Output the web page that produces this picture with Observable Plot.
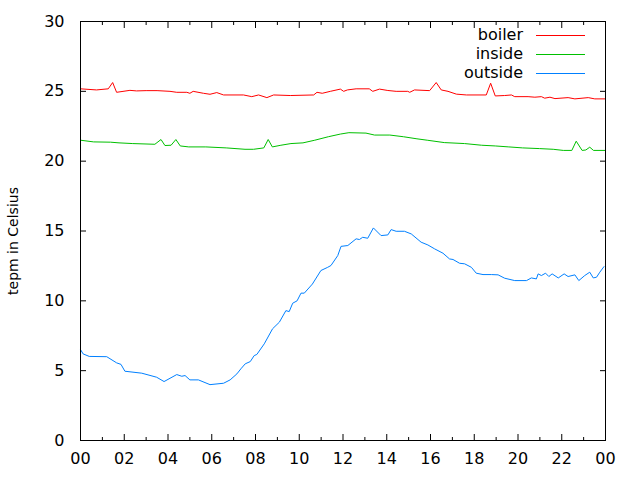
<!DOCTYPE html>
<html>
<head>
<meta charset="utf-8">
<script src="https://cdn.jsdelivr.net/npm/d3@7"></script>
<script src="https://cdn.jsdelivr.net/npm/@observablehq/plot@0.6"></script>
<style>
  html, body { margin: 0; padding: 0; background: #fff; }
  #wrap { position: relative; width: 640px; height: 480px; font-family: "DejaVu Sans", sans-serif; }
  #wrap svg { position: absolute; left: 0; top: 0; }
  .leg { position: absolute; left: 0; width: 640px; height: 20px; }
  .leg span.t { position: absolute; right: 117px; top: 0; font-size: 16px; line-height: 20px; color: #000; }
  .leg span.l { position: absolute; left: 536px; width: 49px; top: 10px; height: 1px; }
</style>
</head>
<body>
<div id="wrap"></div>
<script>
// ---- data (hour of day, temperature °C) ----
const boilerHours = [0, 0.73, 1.27, 1.47, 1.65, 2.26, 2.56, 3.0, 3.5, 4.09, 4.4, 4.86, 5.0, 5.15, 5.62, 5.92, 6.23, 6.54, 7.45, 7.83, 8.14, 8.52, 8.83, 9.59, 10.66, 10.81, 11.05, 11.42, 11.88, 12.03, 12.2, 12.6, 13.2, 13.36, 13.67, 14.05, 14.43, 14.96, 15.05, 15.27, 15.96, 16.26, 16.49, 16.8, 17.18, 17.64, 18.55, 18.75, 18.96, 19.39, 19.7, 19.85, 20.46, 20.77, 21.07, 21.22, 21.46, 21.69, 22.29, 22.6, 23.21, 23.51, 23.97];
const boilerTemp  = [25.18, 25.1, 25.18, 25.63, 24.93, 25.07, 25.03, 25.05, 25.05, 25.0, 24.93, 24.93, 24.86, 25.0, 24.86, 24.79, 24.91, 24.74, 24.74, 24.62, 24.74, 24.55, 24.74, 24.7, 24.74, 24.93, 24.86, 25.0, 25.16, 25.0, 25.1, 25.18, 25.18, 25.0, 25.16, 25.06, 25.0, 25.0, 24.93, 25.1, 25.05, 25.63, 25.1, 25.0, 24.8, 24.74, 24.74, 25.58, 24.67, 24.7, 24.74, 24.62, 24.62, 24.58, 24.62, 24.51, 24.58, 24.48, 24.55, 24.46, 24.55, 24.46, 24.46];

const insideHours = [0, 0.6, 1.37, 1.76, 2.39, 3.40, 3.68, 3.86, 4.14, 4.36, 4.56, 4.95, 5.73, 6.66, 7.52, 7.91, 8.38, 8.58, 8.77, 9.16, 9.62, 10.17, 10.71, 11.33, 11.88, 12.27, 13.05, 13.44, 14.14, 14.76, 15.38, 15.85, 16.63, 17.56, 18.34, 18.96, 19.58, 20.21, 20.99, 21.61, 22.07, 22.46, 22.66, 22.93, 23.1, 23.28, 23.45, 24.0];
const insideTemp  = [21.5, 21.38, 21.36, 21.31, 21.26, 21.21, 21.55, 21.12, 21.14, 21.55, 21.09, 21.02, 21.02, 20.95, 20.85, 20.85, 20.95, 21.55, 21.02, 21.14, 21.26, 21.31, 21.5, 21.75, 21.94, 22.04, 22.01, 21.87, 21.87, 21.75, 21.6, 21.5, 21.33, 21.26, 21.14, 21.09, 21.02, 20.95, 20.9, 20.85, 20.77, 20.77, 21.43, 20.77, 20.8, 21.0, 20.77, 20.77];

const outsideHours = [0, 0.12, 0.4, 1.2, 1.65, 1.85, 2.03, 2.8, 3.48, 3.82, 4.4, 4.63, 4.78, 5.0, 5.39, 5.92, 6.54, 6.84, 7.15, 7.33, 7.53, 7.76, 7.94, 8.06, 8.4, 8.78, 9.09, 9.39, 9.54, 9.7, 9.9, 10.08, 10.23, 10.6, 10.99, 11.3, 11.45, 11.76, 11.91, 12.22, 12.6, 12.75, 12.9, 13.13, 13.39, 13.74, 14.05, 14.2, 14.43, 14.81, 15.12, 15.57, 15.88, 16.19, 16.57, 16.87, 17.03, 17.33, 17.56, 17.87, 18.09, 18.4, 18.78, 19.09, 19.39, 19.85, 20.39, 20.61, 20.84, 20.92, 21.07, 21.26, 21.41, 21.56, 21.84, 22.11, 22.29, 22.6, 22.78, 23.05, 23.28, 23.44, 23.59, 23.74, 23.93];
const outsideTemp  = [6.51, 6.2, 6.02, 6.0, 5.56, 5.45, 4.96, 4.82, 4.53, 4.22, 4.72, 4.6, 4.65, 4.34, 4.34, 4.0, 4.1, 4.34, 4.77, 5.13, 5.49, 5.65, 6.08, 6.16, 6.92, 8.0, 8.47, 9.3, 9.23, 9.83, 10.0, 10.55, 10.55, 11.2, 12.17, 12.4, 12.53, 13.24, 13.9, 13.96, 14.44, 14.39, 14.55, 14.48, 15.22, 14.67, 14.72, 15.1, 14.98, 14.98, 14.79, 14.2, 14.0, 13.72, 13.41, 13.0, 12.96, 12.69, 12.65, 12.4, 11.98, 11.88, 11.88, 11.86, 11.62, 11.45, 11.45, 11.64, 11.57, 11.93, 11.81, 11.98, 11.74, 11.93, 11.64, 11.93, 11.74, 11.86, 11.45, 11.81, 12.05, 11.64, 11.69, 12.05, 12.45];

const seriesNames  = ["boiler", "inside", "outside"];
const seriesColors = ["#ff0000", "#00c000", "#0080ff"];

const xMajorTicks = [0, 2, 4, 6, 8, 10, 12, 14, 16, 18, 20, 22, 24];
const xMinorTicks = [1, 3, 5, 7, 9, 11, 13, 15, 17, 19, 21, 23];
const yTicks = [0, 5, 10, 15, 20, 25, 30];
const yLabel = "tepm in Celsius";

// ---- build tables ----
const toRows = (hs, vs) => hs.map((h, i) => ({h, v: vs[i]}));
const tables = [toRows(boilerHours, boilerTemp), toRows(insideHours, insideTemp), toRows(outsideHours, outsideTemp)];

const fmtHour = h => d3.format("02d")(h % 24);

const chart = Plot.plot({
  width: 640,
  height: 480,
  marginLeft: 80,
  marginRight: 35,
  marginTop: 21,
  marginBottom: 40,
  style: {fontFamily: "DejaVu Sans, sans-serif", fontSize: "16px", background: "#fff", color: "#000"},
  x: {domain: [0, 24]},
  y: {domain: [0, 30]},
  marks: [
    // tick labels
    Plot.axisX({ticks: xMajorTicks, tickSize: 0, tickPadding: 12, tickFormat: fmtHour, label: null}),
    Plot.axisY({ticks: yTicks, tickSize: 0, tickPadding: 16, label: null}),
    // inward ticks, mirrored
    Plot.axisX({ticks: xMajorTicks, anchor: "bottom", tickSize: -6, tickFormat: () => "", label: null}),
    Plot.axisX({ticks: xMajorTicks, anchor: "top", tickSize: -6, tickFormat: () => "", label: null}),
    Plot.axisX({ticks: xMinorTicks, anchor: "bottom", tickSize: -3, tickFormat: () => "", label: null}),
    Plot.axisX({ticks: xMinorTicks, anchor: "top", tickSize: -3, tickFormat: () => "", label: null}),
    Plot.axisY({ticks: yTicks, anchor: "left", tickSize: -6, tickFormat: () => "", label: null}),
    Plot.axisY({ticks: yTicks, anchor: "right", tickSize: -6, tickFormat: () => "", label: null}),
    ...tables.map((t, i) => Plot.line(t, {x: "h", y: "v", stroke: seriesColors[i], strokeWidth: 1})),
    Plot.frame({stroke: "#000", strokeWidth: 1})
  ]
});

// y-axis title, rotated, left of the frame
d3.select(chart).append("text")
  .attr("transform", "translate(13,241) rotate(-90)")
  .attr("text-anchor", "middle")
  .attr("dy", "0.35em")
  .attr("fill", "#000")
  .attr("font-family", "DejaVu Sans, sans-serif")
  .attr("font-size", 14)
  .text(yLabel);

const wrap = document.getElementById("wrap");
wrap.appendChild(chart);

// legend (top-right, inside the frame)
const legendTops = [25, 44, 63];
seriesNames.forEach((name, i) => {
  const row = document.createElement("div");
  row.className = "leg";
  row.style.top = legendTops[i] + "px";
  row.innerHTML = `<span class="t">${name}</span><span class="l" style="background:${seriesColors[i]}"></span>`;
  wrap.appendChild(row);
});
</script>
</body>
</html>
